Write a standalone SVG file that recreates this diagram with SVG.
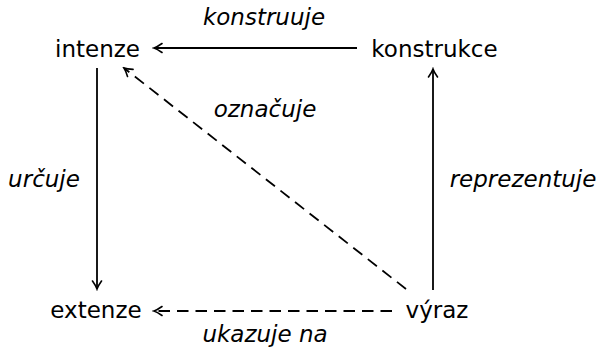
<svg xmlns="http://www.w3.org/2000/svg" width="600" height="350" viewBox="0 0 600 350">
<defs>
<style>
.n{font-family:"DejaVu Sans",sans-serif;font-size:23px;fill:#000;text-anchor:middle}
.l{font-family:"DejaVu Sans",sans-serif;font-size:23px;font-style:italic;fill:#000;text-anchor:middle}
.e{fill:none;stroke:#000;stroke-width:1.8}
.d{stroke-dasharray:11.5 7}
</style>
<marker id="ah" viewBox="-10 -6 12 12" refX="0" refY="0" markerWidth="12" markerHeight="12" markerUnits="userSpaceOnUse" orient="auto">
<path d="M-8,-4.5 Q-3,-1 0,0 Q-3,1 -8,4.5" fill="none" stroke="#000" stroke-width="1.6" stroke-linecap="round"/>
</marker>
</defs>
<rect width="600" height="350" fill="#fff"/>
<g id="connectors">
<path class="e" d="M357,48 L154,48" marker-end="url(#ah)"/>
<path class="e" d="M97,68 L97,289" marker-end="url(#ah)"/>
<path class="e" d="M433,290 L433,69" marker-end="url(#ah)"/>
<path class="e d" d="M406,289 L124,68" marker-end="url(#ah)"/>
<path class="e d" d="M392,311 L154,311" marker-end="url(#ah)"/>
</g>
<g id="labels">
<text class="l" x="264" y="25">konstruuje</text>
<text class="l" x="265" y="117">označuje</text>
<text class="l" x="44" y="187">určuje</text>
<text class="l" x="523" y="187">reprezentuje</text>
<text class="l" x="265" y="342">ukazuje na</text>
</g>
<g id="intenze"><text class="n" x="97.5" y="57">intenze</text></g>
<g id="konstrukce"><text class="n" x="434.5" y="57">konstrukce</text></g>
<g id="extenze"><text class="n" x="96" y="318">extenze</text></g>
<g id="vyraz"><text class="n" x="437" y="318">výraz</text></g>
</svg>
